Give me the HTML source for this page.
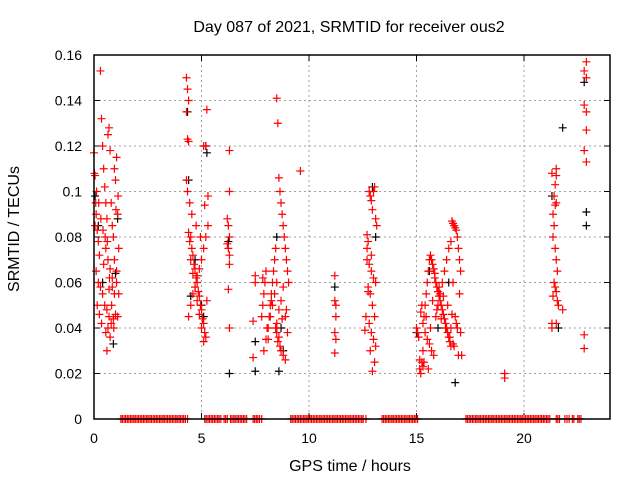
<!DOCTYPE html>
<html><head><meta charset="utf-8"><style>
body{margin:0;background:#fff;}
svg{display:block;font-family:"Liberation Sans",sans-serif;}
</style></head><body>
<svg id="chart" width="640" height="480" xmlns="http://www.w3.org/2000/svg">
<rect width="640" height="480" fill="#fff"/>
<text x="349" y="32" font-size="16" text-anchor="middle">Day 087 of 2021, SRMTID for receiver ous2</text>
<text x="350" y="471" font-size="16" text-anchor="middle">GPS time / hours</text>
<text x="19" y="229" font-size="16" text-anchor="middle" transform="rotate(-90 19 229)">SRMTID / TECUs</text>
<g id="grid"></g><g id="ticks"></g><g id="marks"></g>
<rect x="94" y="55" width="516" height="364" fill="none" stroke="#000" stroke-width="1.5"/>
</svg>
<script>
const xTicks=[0,5,10,15,20];
const yTicks=[0,0.02,0.04,0.06,0.08,0.1,0.12,0.14,0.16];
const yTickLabels=["0","0.02","0.04","0.06","0.08","0.1","0.12","0.14","0.16"];
const redT=[0.0,0.05,0.1,0.15,0.2,0.25,0.3,0.35,0.4,0.45,0.5,0.55,0.6,0.65,0.7,0.75,0.8,0.85,0.9,0.95,1.0,1.05,1.1,1.15,0.1,0.2,0.3,0.4,0.5,0.6,0.7,0.8,0.9,1.0,1.1,0.55,0.65,0.75,0.85,0.95,1.05,0.15,0.25,0.35,0.45,0.55,0.65,0.75,0.85,0.95,1.05,1.15,0.05,0.12,0.22,0.32,0.42,0.52,0.62,0.72,0.82,0.92,1.02,1.12,0.02,0.08,0.6,0.7,
4.3,4.35,4.4,4.3,4.35,4.4,4.3,4.35,4.45,4.4,4.5,4.45,4.55,4.6,4.5,4.65,4.7,4.6,4.75,4.8,4.7,4.85,4.9,4.8,4.95,5.0,4.9,5.05,5.1,5.0,5.15,5.2,5.1,5.25,5.1,5.2,4.4,4.5,4.6,4.7,4.8,4.9,5.0,5.1,5.2,5.3,4.55,4.75,4.95,5.15,5.3,5.25,
6.3,6.3,6.2,6.25,6.3,6.2,6.25,6.3,6.3,6.25,6.3,
7.4,7.4,7.5,7.5,7.8,7.85,7.9,7.95,8.0,8.05,8.1,8.15,8.2,8.25,8.3,8.35,8.4,8.45,8.5,8.55,8.6,8.65,8.7,8.75,8.8,8.85,8.9,8.95,9.0,9.05,8.5,8.5,8.5,8.6,8.55,8.65,8.7,8.8,8.9,7.9,8.0,8.1,8.2,8.3,8.4,8.5,8.6,8.7,8.8,8.9,9.0,9.6,8.45,8.75,8.95,7.85,8.25,
11.2,11.2,11.25,11.25,11.2,11.25,11.2,
12.6,12.65,12.7,12.75,12.8,12.85,12.9,12.95,13.0,13.05,13.1,13.15,12.7,12.8,12.9,13.0,13.1,12.75,12.85,12.95,13.05,12.7,12.8,12.9,13.0,13.1,12.85,12.95,13.05,12.75,12.9,
15.0,15.05,15.1,15.15,15.2,15.25,15.3,15.35,15.4,15.45,15.5,15.55,15.6,15.65,15.7,15.75,15.8,15.85,15.9,15.95,16.0,16.05,16.1,16.15,16.2,16.25,16.3,16.35,16.4,16.45,16.5,16.55,16.6,16.65,16.7,16.75,16.8,16.85,16.9,16.95,17.0,17.05,17.1,15.2,15.3,15.4,15.5,15.6,15.7,15.8,15.9,16.0,16.1,16.2,16.3,16.4,16.5,16.6,16.7,16.8,16.9,17.0,15.25,15.45,15.65,15.85,16.05,16.25,16.45,16.65,16.85,17.05,15.35,15.55,15.75,15.95,16.15,16.35,16.55,16.75,16.95,15.15,15.3,16.6,16.7,
19.1,19.1,
21.3,21.3,21.5,21.3,21.5,21.4,21.35,21.45,21.5,21.4,21.35,21.45,21.5,21.55,21.4,21.45,21.5,21.35,21.55,21.6,21.8,21.5,21.45,
22.8,22.8,22.9,22.9,22.8,22.8,22.9,22.9,22.8,22.9];
const redV=[0.117,0.107,0.09,0.083,0.078,0.072,0.153,0.132,0.12,0.11,0.102,0.095,0.088,0.125,0.128,0.118,0.095,0.085,0.08,0.11,0.105,0.115,0.09,0.075,0.065,0.06,0.058,0.055,0.05,0.048,0.045,0.042,0.044,0.046,0.045,0.038,0.04,0.036,0.062,0.07,0.065,0.05,0.046,0.042,0.068,0.075,0.07,0.066,0.058,0.055,0.06,0.055,0.085,0.1,0.095,0.088,0.083,0.08,0.078,0.062,0.05,0.04,0.092,0.098,0.108,0.095,0.03,0.057,
0.15,0.145,0.14,0.135,0.123,0.122,0.105,0.1,0.095,0.082,0.08,0.078,0.075,0.072,0.07,0.068,0.066,0.064,0.062,0.06,0.058,0.056,0.054,0.052,0.05,0.048,0.046,0.044,0.042,0.04,0.038,0.036,0.034,0.136,0.12,0.12,0.045,0.05,0.055,0.058,0.063,0.066,0.07,0.075,0.08,0.085,0.09,0.085,0.08,0.094,0.098,0.052,
0.118,0.1,0.088,0.085,0.08,0.077,0.075,0.072,0.068,0.057,0.04,
0.043,0.027,0.063,0.06,0.045,0.05,0.055,0.06,0.065,0.04,0.035,0.045,0.05,0.055,0.06,0.065,0.07,0.075,0.141,0.13,0.106,0.1,0.095,0.09,0.085,0.08,0.075,0.07,0.065,0.06,0.042,0.04,0.038,0.036,0.034,0.032,0.03,0.028,0.026,0.03,0.035,0.04,0.045,0.05,0.055,0.06,0.048,0.052,0.058,0.045,0.038,0.109,0.04,0.044,0.048,0.062,0.052,
0.063,0.052,0.05,0.045,0.038,0.035,0.029,
0.039,0.045,0.081,0.078,0.1,0.098,0.096,0.092,0.1,0.102,0.088,0.085,0.07,0.068,0.065,0.062,0.06,0.058,0.055,0.05,0.045,0.075,0.042,0.038,0.035,0.032,0.03,0.021,0.025,0.056,0.072,
0.04,0.038,0.036,0.022,0.02,0.025,0.03,0.045,0.05,0.055,0.06,0.065,0.07,0.072,0.07,0.068,0.066,0.064,0.06,0.058,0.056,0.054,0.052,0.05,0.048,0.046,0.044,0.042,0.04,0.038,0.036,0.034,0.032,0.087,0.086,0.085,0.084,0.083,0.08,0.075,0.07,0.065,0.028,0.047,0.042,0.038,0.035,0.033,0.03,0.028,0.045,0.05,0.055,0.06,0.065,0.07,0.075,0.078,0.06,0.045,0.04,0.055,0.05,0.045,0.04,0.062,0.058,0.054,0.05,0.046,0.042,0.038,0.025,0.022,0.052,0.048,0.044,0.04,0.036,0.032,0.028,0.026,0.023,0.04,0.033,0.02,0.018,
0.042,0.04,
0.11,0.108,0.107,0.098,0.09,0.094,0.095,0.085,0.08,0.075,0.07,0.065,0.06,0.058,0.056,0.054,0.052,0.05,0.048,0.042,0.103,0.037,0.031,
0.157,0.15,0.153,0.138,0.135,0.127,0.118,0.113,0.104,0.095];
const blackT=[0.05,0.2,0.4,0.9,1.0,1.1,4.35,4.4,4.5,4.7,5.0,5.1,5.2,5.25,6.3,6.25,7.5,7.5,8.6,8.7,8.8,8.5,11.2,12.95,13.1,15.0,15.6,16.0,16.5,16.8,21.3,21.8,21.6,22.9,22.9,22.8];
const blackV=[0.098,0.085,0.06,0.033,0.064,0.088,0.135,0.105,0.054,0.07,0.05,0.045,0.12,0.117,0.02,0.078,0.021,0.034,0.021,0.04,0.03,0.08,0.058,0.102,0.08,0.038,0.065,0.04,0.06,0.016,0.098,0.128,0.04,0.091,0.085,0.148];
const zeroT=[1.25,1.32,1.4,1.47,1.55,1.62,1.7,1.77,1.85,1.92,2.0,2.07,2.15,2.22,2.3,2.37,2.45,2.52,2.6,2.67,2.75,2.82,2.9,2.97,3.05,3.12,3.2,3.27,3.35,3.42,3.5,3.57,3.65,3.72,3.8,3.87,3.95,4.02,4.1,4.17,4.25,4.35,
5.15,5.22,5.3,5.37,5.45,5.52,5.6,5.67,5.75,5.82,5.9,6.05,6.12,6.2,6.35,6.42,6.5,6.57,6.65,6.72,6.8,6.87,6.95,7.02,7.1,7.4,7.47,7.55,7.62,7.7,7.8,
9.15,9.22,9.3,9.37,9.45,9.52,9.6,9.67,9.75,9.82,9.9,9.97,10.05,10.12,10.2,10.27,10.35,10.42,10.5,10.57,10.65,10.72,10.8,10.87,10.95,11.02,11.1,11.17,11.25,11.32,11.4,11.47,11.55,11.62,11.7,11.77,11.85,11.92,12.0,12.07,12.15,12.22,12.3,12.37,12.45,12.52,12.65,
13.4,13.47,13.55,13.62,13.7,13.77,13.85,13.92,14.0,14.07,14.15,14.22,14.3,14.37,14.45,14.52,14.6,14.67,14.75,14.82,14.9,14.97,15.05,
17.3,17.37,17.45,17.52,17.6,17.67,17.75,17.82,17.9,17.97,18.05,18.12,18.2,18.27,18.35,18.42,18.5,18.57,18.65,18.72,18.8,18.87,18.95,19.02,19.1,19.17,19.25,19.32,19.4,19.47,19.55,19.62,19.7,19.77,19.85,19.92,20.0,20.07,20.15,20.22,20.3,20.37,20.45,20.52,20.6,20.67,20.75,20.82,20.9,20.97,21.05,21.12,21.2,21.5,21.57,21.65,21.9,22.0,22.1,22.25,22.32,22.5,22.57,22.65];
const X0=94,X1=610,Y0=419,Y1=55;
function xs(t){return X0+(t/24)*(X1-X0);}
function ys(v){return Y0-(v/0.16)*(Y0-Y1);}
const NS="http://www.w3.org/2000/svg";
const grid=document.getElementById('grid'),ticks=document.getElementById('ticks'),marks=document.getElementById('marks');
function mk(tag,a,p){const e=document.createElementNS(NS,tag);for(const k in a)e.setAttribute(k,a[k]);p.appendChild(e);return e;}
yTicks.forEach((v,i)=>{const y=ys(v);
 if(i>0&&i<yTicks.length-1){const g=mk('line',{x1:X0,x2:X1,y1:y,y2:y,stroke:'#a0a0a0','stroke-dasharray':'2,3'},grid);
 
 }
 mk('line',{x1:X0,x2:X0+6,y1:y,y2:y,stroke:'#000'},ticks);mk('line',{x1:X1,x2:X1-6,y1:y,y2:y,stroke:'#000'},ticks);
 const t=mk('text',{x:82,y:y+5,'font-size':14,'text-anchor':'end'},ticks);t.textContent=yTickLabels[i];
 
 });
xTicks.forEach(v=>{const x=xs(v);
 if(v>0){const g=mk('line',{x1:x,x2:x,y1:Y1,y2:Y0,stroke:'#a0a0a0','stroke-dasharray':'2,3'},grid);
 
 }
 mk('line',{x1:x,x2:x,y1:Y0,y2:Y0-6,stroke:'#000'},ticks);mk('line',{x1:x,x2:x,y1:Y1,y2:Y1+6,stroke:'#000'},ticks);
 const t=mk('text',{x:x,y:443,'font-size':14,'text-anchor':'middle'},ticks);t.textContent=String(v);
 
 });
function plus(t,v,c,name){const x=xs(t),y=ys(v);
 const p=mk('path',{d:`M${x-4} ${y}H${x+4}M${x} ${y-4}V${y+4}`,stroke:c,'stroke-width':1.2,fill:'none'},marks);
 
 }
blackT.forEach((t,i)=>plus(t,blackV[i],'#000','black-point'));
redT.forEach((t,i)=>plus(t,redV[i],'#f00','red-point'));
zeroT.forEach(t=>plus(t,0,'#f00','zero-point'));
</script>
</body></html>
